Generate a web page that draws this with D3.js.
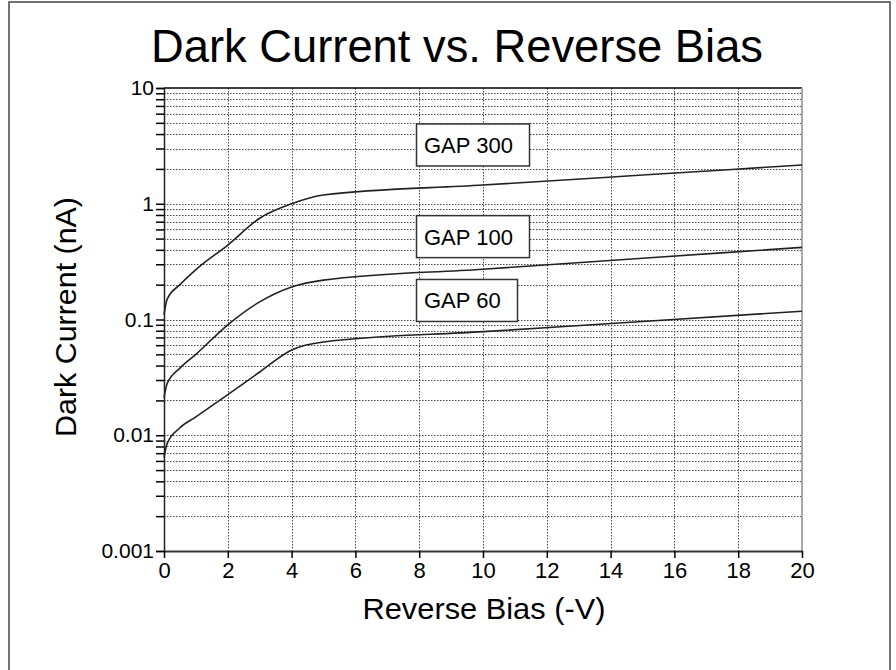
<!DOCTYPE html>
<html>
<head>
<meta charset="utf-8">
<script src="https://cdn.jsdelivr.net/npm/d3@7"></script>
<style>
  body { margin: 0; background: #fff; }
  svg text { font-family: "Liberation Sans", Arial, sans-serif; fill: #000; }
</style>
</head>
<body>
<svg id="chart" width="896" height="670"></svg>
<script>
// data
let biasV = [0, 0.1, 0.5, 1, 2, 3, 4, 5, 10, 15, 20];
let gap300 = [0.11, 0.15, 0.2, 0.27, 0.44, 0.75, 1.0, 1.19, 1.45, 1.77, 2.16];
let gap100 = [0.021, 0.028, 0.038, 0.05, 0.09, 0.142, 0.191, 0.219, 0.272, 0.338, 0.42];
let gap60 = [0.0064, 0.0085, 0.0116, 0.0144, 0.0224, 0.0352, 0.0546, 0.064, 0.0785, 0.096, 0.118];
let seriesNames = ['GAP 300', 'GAP 100', 'GAP 60'];
let labelValues = [3.22, 0.52, 0.146];   // where each label box sits (nA)
let xTicks = [0, 2, 4, 6, 8, 10, 12, 14, 16, 18, 20];
let yTicks = [0.001, 0.01, 0.1, 1, 10];

let svg = d3.select('#chart');

// outer frame
svg.append('rect')
  .attr('x', 9).attr('y', 2)
  .attr('width', 881).attr('height', 720)
  .attr('fill', 'none')
  .attr('stroke', '#444')
  .attr('stroke-width', 1.5);

let x = d3.scaleLinear().domain([0, 20]).range([164, 802]);
let y = d3.scaleLog().domain([0.001, 10]).range([551, 88]);

// grid
let minorY = y.ticks().filter(d => d > 0.0011 && d < 9.9);
svg.append('g').selectAll('line')
  .data(minorY)
  .enter().append('line')
  .attr('x1', x(0)).attr('x2', x(20))
  .attr('y1', d => Math.round(y(d)) + 0.5)
  .attr('y2', d => Math.round(y(d)) + 0.5)
  .attr('stroke', '#444')
  .attr('stroke-dasharray', '1.5,1.5');

svg.append('g').selectAll('line')
  .data(xTicks.filter(d => d > 0 && d < 20))
  .enter().append('line')
  .attr('x1', d => Math.round(x(d)) + 0.5)
  .attr('x2', d => Math.round(x(d)) + 0.5)
  .attr('y1', y(10)).attr('y2', y(0.001))
  .attr('stroke', '#444')
  .attr('stroke-dasharray', '1.5,1.5');

// plot frame: top black, right grey
svg.append('line')
  .attr('x1', x(0)).attr('x2', x(20))
  .attr('y1', y(10)).attr('y2', y(10))
  .attr('stroke', '#000').attr('stroke-width', 1.5);
svg.append('line')
  .attr('x1', x(20)).attr('x2', x(20))
  .attr('y1', y(10)).attr('y2', y(0.001))
  .attr('stroke', '#aaa').attr('stroke-width', 2);

// axes
let yAxis = svg.append('g')
  .attr('transform', 'translate(' + x(0) + ',0)')
  .call(d3.axisLeft(y).tickValues(y.ticks()).tickSize(8).tickFormat(''));
yAxis.select('.domain').attr('stroke', '#222').attr('stroke-width', 1.5);
yAxis.selectAll('.tick line').attr('stroke', '#000').attr('stroke-width', 1.5);

svg.append('g').selectAll('text')
  .data(yTicks)
  .enter().append('text')
  .attr('x', 154)
  .attr('y', d => y(d) + 7)
  .attr('text-anchor', 'end')
  .style('font-size', '21px')
  .text(d => d3.format('~g')(d));

let xAxis = svg.append('g')
  .attr('transform', 'translate(0,' + y(0.001) + ')')
  .call(d3.axisBottom(x).tickValues(xTicks).tickSize(7).tickSizeOuter(0).tickPadding(4));
xAxis.select('.domain').attr('stroke', '#333').attr('stroke-width', 2);
xAxis.selectAll('.tick line').attr('stroke', '#000').attr('stroke-width', 1.5);
xAxis.selectAll('.tick text')
  .style('font-size', '22px')
  .style('font-family', '"Liberation Sans", Arial, sans-serif');

// curves
let line = d3.line()
  .curve(d3.curveMonotoneX)
  .x((d, i) => x(biasV[i]))
  .y(d => y(d));

[gap300, gap100, gap60].forEach(s => {
  svg.append('path')
    .datum(s)
    .attr('fill', 'none')
    .attr('stroke', '#222')
    .attr('stroke-width', 1.6)
    .attr('d', line);
});

// label boxes
let boxW = [113, 113, 101];
seriesNames.forEach((name, i) => {
  let cy = y(labelValues[i]);
  let g = svg.append('g');
  g.append('rect')
    .attr('x', 416.5).attr('y', cy - 21)
    .attr('width', boxW[i]).attr('height', 42)
    .attr('fill', '#fff')
    .attr('stroke', '#333')
    .attr('stroke-width', 1.5);
  g.append('text')
    .attr('x', 424).attr('y', cy + 8)
    .style('font-size', '22px')
    .text(name);
});

// titles
svg.append('text')
  .attr('x', 457).attr('y', 62)
  .attr('text-anchor', 'middle')
  .attr('textLength', 612)
  .attr('lengthAdjust', 'spacingAndGlyphs')
  .style('font-size', '47px')
  .text('Dark Current vs. Reverse Bias');

svg.append('text')
  .attr('x', 484).attr('y', 619)
  .attr('text-anchor', 'middle')
  .attr('textLength', 243)
  .attr('lengthAdjust', 'spacingAndGlyphs')
  .style('font-size', '29px')
  .text('Reverse Bias (-V)');

svg.append('text')
  .attr('transform', 'translate(76,317) rotate(-90)')
  .attr('text-anchor', 'middle')
  .attr('textLength', 240)
  .attr('lengthAdjust', 'spacingAndGlyphs')
  .style('font-size', '29px')
  .text('Dark Current (nA)');
</script>
</body>
</html>
